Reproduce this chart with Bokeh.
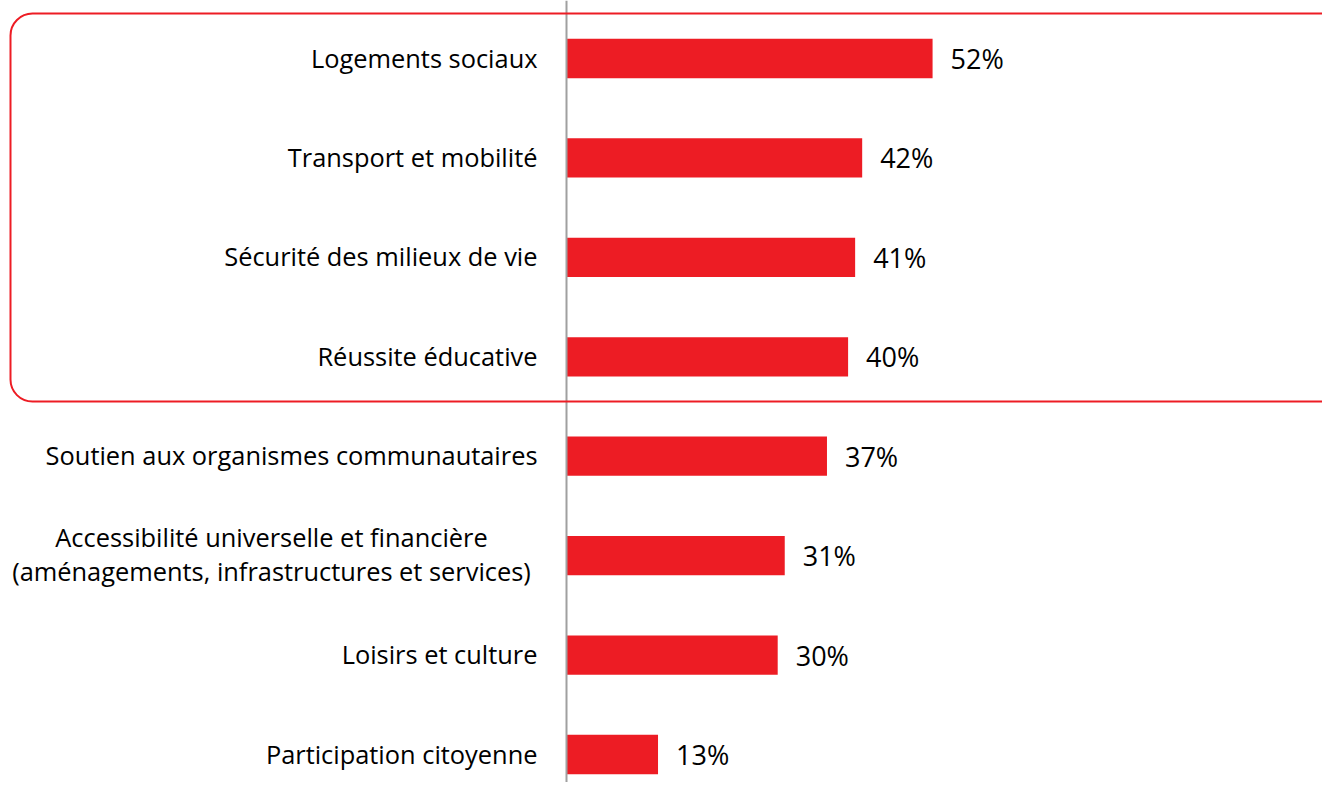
from bokeh.plotting import figure
from bokeh.models import Range1d, ColumnDataSource, BoxAnnotation, Span
from bokeh.core.properties import value
from bokeh.embed import file_html
from bokeh.resources import INLINE

categories = [
    "Logements sociaux",
    "Transport et mobilité",
    "Sécurité des milieux de vie",
    "Réussite éducative",
    "Soutien aux organismes communautaires",
    "Accessibilité universelle et financière\n(aménagements, infrastructures et services)",
    "Loisirs et culture",
    "Participation citoyenne",
]
values = [52, 42, 41, 40, 37, 31, 30, 13]
value_labels = [f"{v}%" for v in values]
highlighted_rows = 4  # first four rows are framed

RED = "#ED1C24"
FONT = "Open Sans"

W, H = 1322, 782
px_per_pct = 7.04
row_px = 99.43
x0 = -566 / px_per_pct
y_top = -58 / row_px

p = figure(
    width=W, height=H,
    x_range=Range1d(x0, x0 + W / px_per_pct),
    y_range=Range1d(y_top + H / row_px, y_top),
    output_backend="svg", toolbar_location=None,
    min_border=0, outline_line_color=None,
)
p.axis.visible = False
p.grid.visible = False
p.background_fill_color = "white"
p.border_fill_color = "white"

idx = list(range(len(categories)))
single = [i for i, c in enumerate(categories) if "\n" not in c]
multi = [i for i, c in enumerate(categories) if "\n" in c]

src = ColumnDataSource(dict(y=idx, v=values, lab=value_labels))

p.hbar(y="y", left=0, right="v", height=0.395, source=src,
       fill_color=RED, line_color=None)

p.text(x="v", y="y", text="lab", source=src, x_offset=18, y_offset=0,
       text_align="left", text_baseline="middle",
       text_font=value(FONT), text_font_size="27px", text_color="#000000")

s1 = ColumnDataSource(dict(y=[idx[i] for i in single], cat=[categories[i] for i in single],
                           zero=[0] * len(single)))
p.text(x="zero", y="y", text="cat", source=s1, x_offset=-29, y_offset=-1,
       text_align="right", text_baseline="middle",
       text_font=value(FONT), text_font_size="25.4px", text_color="#000000")

s2 = ColumnDataSource(dict(y=[idx[i] for i in multi], cat=[categories[i] for i in multi],
                           zero=[0] * len(multi)))
p.text(x="zero", y="y", text="cat", source=s2, x_offset=-295, y_offset=-2,
       text_align="center", text_baseline="middle", text_line_height=1.0,
       text_font=value(FONT), text_font_size="25.4px", text_color="#000000")

# vertical axis line
p.add_layout(Span(location=0, dimension="height", line_color="#A0A0A0", line_width=2))

# rounded frame around the top rows
box = BoxAnnotation(left=x0 + 10 / px_per_pct, right=x0 + 2 * W / px_per_pct,
                    top=-0.4526, bottom=highlighted_rows - 0.5 - 0.05,
                    fill_alpha=0, line_color=RED, line_alpha=1.0, line_width=2,
                    border_radius=22)
p.add_layout(box)

open("out.html", "w").write(file_html(p, INLINE))
